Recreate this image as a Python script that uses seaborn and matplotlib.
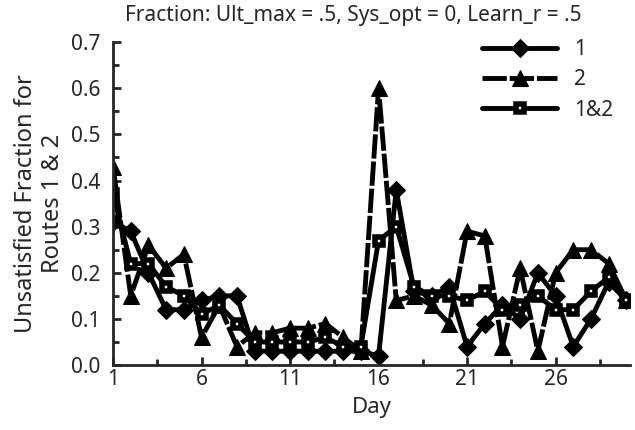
import matplotlib
matplotlib.use("Agg")
import matplotlib.pyplot as plt
from matplotlib.ticker import MultipleLocator, FixedLocator, FormatStrFormatter
import seaborn as sns
import pandas as pd

days = list(range(1, 31))
route1 = [0.31, 0.29, 0.20, 0.12, 0.12, 0.14, 0.15, 0.15, 0.03, 0.03,
          0.03, 0.03, 0.03, 0.03, 0.03, 0.02, 0.38, 0.16, 0.15, 0.17,
          0.04, 0.09, 0.13, 0.10, 0.20, 0.15, 0.04, 0.10, 0.18, 0.14]
route2 = [0.43, 0.15, 0.26, 0.21, 0.24, 0.06, 0.13, 0.04, 0.07, 0.07,
          0.08, 0.08, 0.09, 0.06, 0.03, 0.60, 0.14, 0.15, 0.13, 0.09,
          0.29, 0.28, 0.04, 0.21, 0.03, 0.20, 0.25, 0.25, 0.22, 0.14]
route12 = [0.37, 0.22, 0.22, 0.17, 0.15, 0.11, 0.13, 0.09, 0.05, 0.05,
           0.05, 0.05, 0.06, 0.04, 0.04, 0.27, 0.30, 0.17, 0.15, 0.15,
           0.14, 0.16, 0.12, 0.13, 0.15, 0.12, 0.12, 0.16, 0.19, 0.14]
series_names = ["1", "2", "1&2"]
x_ticks = [1, 6, 11, 16, 21, 26]

df = pd.concat([
    pd.DataFrame({"Day": days, "value": vals, "series": name})
    for name, vals in zip(series_names, [route1, route2, route12])
])

sns.set_style("ticks")
plt.rcParams["font.family"] = ["Noto Sans", "DejaVu Sans"]

fig = plt.figure(figsize=(6.35, 4.3), dpi=100)
ax = fig.add_axes([0.178, 0.151, 0.814, 0.751])

sns.lineplot(
    data=df, x="Day", y="value", hue="series", style="series",
    hue_order=series_names, style_order=series_names,
    palette={n: "black" for n in series_names},
    dashes={"1": "", "2": (5, 0.6), "1&2": ""},
    markers={"1": "D", "2": "^", "1&2": "s"},
    markersize=9, linewidth=3.5, markeredgecolor="black",
    ax=ax,
)


def style_markers(lines):
    # thicker triangles, squares drawn mostly black with a small white centre
    for line in lines:
        m = line.get_marker()
        if m == "^":
            line.set_markersize(11)
        elif m == "s":
            line.set_markerfacecolor("white")
            line.set_markersize(5.5)
            line.set_markeredgewidth(4)


style_markers(ax.get_lines())

ax.set_xlim(1, 30.2)
ax.set_ylim(0, 0.7)
ax.xaxis.set_major_locator(FixedLocator(x_ticks))
ax.xaxis.set_minor_locator(FixedLocator([3.5, 8.5, 13.5, 18.5, 23.5, 28.5]))
ax.yaxis.set_major_locator(MultipleLocator(0.1))
ax.yaxis.set_minor_locator(MultipleLocator(0.05))
ax.yaxis.set_major_formatter(FormatStrFormatter("%.1f"))
ax.tick_params(which="both", direction="in", width=2, labelsize=15)
ax.tick_params(axis="y", pad=9)
ax.tick_params(axis="x", pad=3)
ax.tick_params(which="major", length=6)
ax.tick_params(which="minor", length=4)
for side in ["left", "bottom"]:
    ax.spines[side].set_linewidth(2)
sns.despine(ax=ax)

ax.set_xlabel("Day", fontsize=16, labelpad=5)
ax.set_ylabel("Unsatisfied Fraction for\nRoutes 1 & 2", fontsize=17, labelpad=4)
fig.text(0.557, 0.963, "Fraction: Ult_max = .5, Sys_opt = 0, Learn_r = .5",
         ha="center", va="center", fontsize=15)

leg = ax.legend(loc="upper left", bbox_to_anchor=(0.714, 1.01), frameon=False,
                borderaxespad=0, borderpad=0,
                fontsize=15, handlelength=3.6, handletextpad=0.8,
                labelspacing=0.45)
for h in leg.legend_handles:
    h.set_color("black")
    h.set_linewidth(3.5)
style_markers(leg.legend_handles)

fig.savefig("out.png", dpi=100)
